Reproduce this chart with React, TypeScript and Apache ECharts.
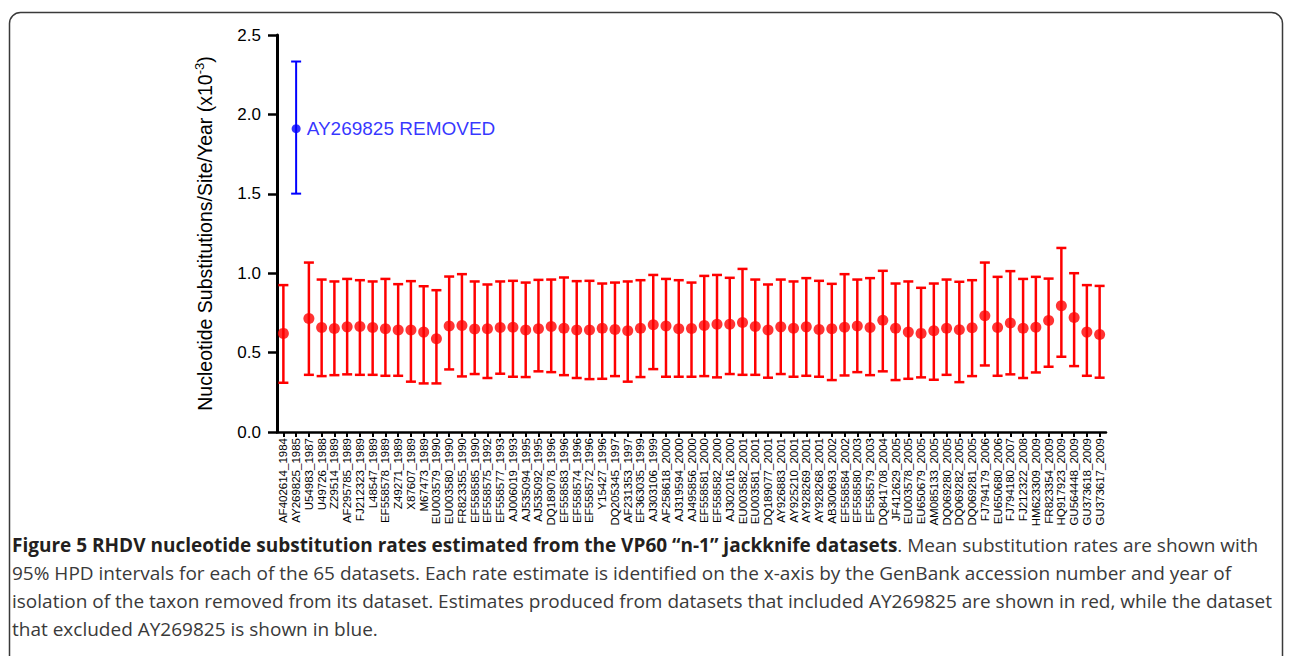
import React, { useEffect, useRef } from 'react';
import * as echarts from 'echarts';

const labels = [
  'AF402614_1984', 'AY269825_1985', 'U54983_1987', 'U49726_1988', 'Z29514_1989',
  'AF295785_1989', 'FJ212323_1989', 'L48547_1989', 'EF558578_1989', 'Z49271_1989',
  'X87607_1989', 'M67473_1989', 'EU003579_1990', 'EU003580_1990', 'FR823355_1990',
  'EF558585_1990', 'EF558575_1992', 'EF558577_1993', 'AJ006019_1993', 'AJ535094_1995',
  'AJ535092_1995', 'DQ189078_1996', 'EF558583_1996', 'EF558574_1996', 'EF558572_1996',
  'Y15427_1996', 'DQ205345_1997', 'AF231353_1997', 'EF363035_1999', 'AJ303106_1999',
  'AF258618_2000', 'AJ319594_2000', 'AJ495856_2000', 'EF558581_2000', 'EF558582_2000',
  'AJ302016_2000', 'EU003582_2001', 'EU003581_2001', 'DQ189077_2001', 'AY926883_2001',
  'AY925210_2001', 'AY928269_2001', 'AY928268_2001', 'AB300693_2002', 'EF558584_2002',
  'EF558580_2003', 'EF558579_2003', 'DQ841708_2004', 'JF412629_2005', 'EU003578_2005',
  'EU650679_2005', 'AM085133_2005', 'DQ069280_2005', 'DQ069282_2005', 'DQ069281_2005',
  'FJ794179_2006', 'EU650680_2006', 'FJ794180_2007', 'FJ212322_2008', 'HM623309_2009',
  'FR823354_2009', 'HQ917923_2009', 'GU564448_2009', 'GU373618_2009', 'GU373617_2009',
];

const means = [
  0.621, 1.91, 0.715, 0.658, 0.652, 0.662, 0.665, 0.658, 0.65, 0.642,
  0.642, 0.629, 0.587, 0.667, 0.671, 0.648, 0.65, 0.658, 0.66, 0.642,
  0.65, 0.665, 0.654, 0.642, 0.642, 0.654, 0.646, 0.637, 0.654, 0.675,
  0.667, 0.65, 0.652, 0.671, 0.679, 0.679, 0.69, 0.665, 0.642, 0.662,
  0.654, 0.662, 0.646, 0.65, 0.66, 0.667, 0.658, 0.704, 0.654, 0.629,
  0.621, 0.637, 0.654, 0.644, 0.656, 0.732, 0.658, 0.686, 0.654, 0.66,
  0.702, 0.795, 0.721, 0.629, 0.614,
];

const uppers = [
  0.925, 2.333, 1.067, 0.96, 0.948, 0.964, 0.956, 0.948, 0.964, 0.931,
  0.95, 0.918, 0.893, 0.979, 0.994, 0.948, 0.929, 0.948, 0.952, 0.941,
  0.958, 0.96, 0.973, 0.95, 0.952, 0.935, 0.941, 0.948, 0.956, 0.989,
  0.964, 0.956, 0.941, 0.983, 0.989, 0.971, 1.027, 0.96, 0.929, 0.96,
  0.948, 0.969, 0.952, 0.933, 0.994, 0.96, 0.969, 1.015, 0.935, 0.948,
  0.908, 0.935, 0.96, 0.946, 0.956, 1.067, 0.977, 1.013, 0.964, 0.977,
  0.966, 1.159, 1.0, 0.925, 0.92,
];

const lowers = [
  0.31, 1.501, 0.36, 0.352, 0.358, 0.363, 0.36, 0.36, 0.354, 0.354,
  0.317, 0.306, 0.306, 0.394, 0.35, 0.365, 0.34, 0.367, 0.348, 0.346,
  0.382, 0.377, 0.358, 0.34, 0.333, 0.335, 0.352, 0.317, 0.346, 0.396,
  0.348, 0.348, 0.348, 0.352, 0.344, 0.365, 0.36, 0.36, 0.342, 0.365,
  0.348, 0.354, 0.348, 0.327, 0.356, 0.377, 0.358, 0.382, 0.327, 0.335,
  0.344, 0.329, 0.36, 0.314, 0.352, 0.419, 0.354, 0.363, 0.34, 0.375,
  0.411, 0.474, 0.415, 0.354, 0.342,
];

const removedLabel = 'AY269825 REMOVED';
const removedIndex = labels.indexOf('AY269825_1985');

const captionBold = 'Figure 5 RHDV nucleotide substitution rates estimated from the VP60 \u201cn-1\u201d jackknife datasets';
const captionLines = [
  '. Mean substitution rates are shown with',
  '95% HPD intervals for each of the 65 datasets. Each rate estimate is identified on the x-axis by the GenBank accession number and year of',
  'isolation of the taxon removed from its dataset. Estimates produced from datasets that included AY269825 are shown in red, while the dataset',
  'that excluded AY269825 is shown in blue.',
];

const RED = '#ff0000';
const BLUE = '#0000ff';
const FONT = '"Liberation Sans", Arial, Helvetica, sans-serif';
const CAPFONT = '"Open Sans", "Noto Sans", sans-serif';

export default function App() {
  const ref = useRef<HTMLDivElement>(null);

  useEffect(() => {
    const chart = echarts.init(ref.current!, null, { renderer: 'svg' });
    const redIdx = labels.map((_, i) => i).filter((i) => i !== removedIndex);
    const blueIdx = [removedIndex];
    const barData = (idxs: number[]) => idxs.map((i) => [i, means[i], lowers[i], uppers[i]]);
    const ptData = (idxs: number[]) => idxs.map((i) => [i, means[i]]);

    const makeRender = (color: string, lw: number, half: number) => (params: any, api: any) => {
      const x = api.value(0);
      const lo = api.coord([x, api.value(2)]);
      const hi = api.coord([x, api.value(3)]);
      const st = { stroke: color, lineWidth: lw };
      return {
        type: 'group',
        children: [
          { type: 'line', shape: { x1: lo[0], y1: lo[1], x2: hi[0], y2: hi[1] }, style: st },
          { type: 'line', shape: { x1: hi[0] - half, y1: hi[1], x2: hi[0] + half, y2: hi[1] }, style: st },
          { type: 'line', shape: { x1: lo[0] - half, y1: lo[1], x2: lo[0] + half, y2: lo[1] }, style: st },
        ],
      };
    };

    const captionY = [545, 573, 601, 629];
    const captionGraphics = captionLines.map((t, k) => ({
      type: 'text',
      x: 12,
      y: captionY[k],
      silent: true,
      style: {
        text: k === 0 ? '{b|' + captionBold + '}{n|' + t + '}' : '{n|' + t + '}',
        verticalAlign: 'middle',
        rich: {
          b: { fontFamily: CAPFONT, fontSize: 19, fontWeight: 'bold', fill: '#231f20' },
          n: { fontFamily: CAPFONT, fontSize: 19, fill: '#3a3a3a' },
        },
      },
    }));

    chart.setOption({
      animation: false,
      backgroundColor: '#ffffff',
      textStyle: { fontFamily: FONT },
      grid: { left: 277, right: 186, top: 35, bottom: 224, containLabel: false },
      xAxis: {
        type: 'category',
        data: labels,
        boundaryGap: true,
        axisLine: { show: true, lineStyle: { color: '#000', width: 2.5 } },
        axisTick: { show: true, alignWithLabel: true, length: 5, lineStyle: { color: '#000', width: 2 } },
        axisLabel: {
          interval: 0,
          rotate: 90,
          fontSize: 11.5,
          color: '#000',
          margin: 6,
          fontFamily: FONT,
        },
        splitLine: { show: false },
      },
      yAxis: {
        type: 'value',
        min: 0,
        max: 2.5,
        interval: 0.5,
        name: '{a|Nucleotide Substitutions/Site/Year (x10}{s|-3}{a|)}',
        nameLocation: 'middle',
        nameGap: 60,
        nameTextStyle: {
          rich: {
            a: { fontSize: 19.5, color: '#000', fontFamily: FONT, lineHeight: 24 },
            s: { fontSize: 13, color: '#000', fontFamily: FONT, verticalAlign: 'top', lineHeight: 24, padding: [0, 0, 8, 0] },
          },
        },
        axisLine: { show: true, lineStyle: { color: '#000', width: 3 } },
        axisTick: { show: true, length: 9, lineStyle: { color: '#000', width: 2.5 } },
        axisLabel: {
          fontSize: 17,
          color: '#000',
          margin: 16,
          fontFamily: FONT,
          formatter: (v: number) => v.toFixed(1),
        },
        splitLine: { show: false },
      },
      graphic: [
        {
          type: 'rect',
          silent: true,
          z: -10,
          shape: { x: 9.5, y: 12.5, width: 1273, height: 720, r: 11 },
          style: { fill: 'none', stroke: '#3a3a3a', lineWidth: 1.5 },
        },
        ...captionGraphics,
      ],
      series: [
        {
          type: 'custom',
          renderItem: makeRender(RED, 2.5, 5),
          data: barData(redIdx),
          encode: { x: 0, y: [1, 2, 3] },
          z: 2,
        },
        {
          type: 'custom',
          renderItem: makeRender(BLUE, 2, 5),
          data: barData(blueIdx),
          encode: { x: 0, y: [1, 2, 3] },
          z: 2,
        },
        {
          type: 'scatter',
          data: ptData(redIdx),
          symbol: 'circle',
          symbolSize: 11,
          itemStyle: { color: RED },
          z: 3,
        },
        {
          type: 'scatter',
          data: ptData(blueIdx),
          symbol: 'circle',
          symbolSize: 9,
          itemStyle: { color: BLUE },
          label: {
            show: true,
            position: 'right',
            distance: 6,
            formatter: removedLabel,
            color: BLUE,
            fontSize: 19,
            fontFamily: FONT,
          },
          z: 3,
        },
      ],
    });
    return () => chart.dispose();
  }, []);

  return (
    <div
      ref={ref}
      style={{ position: 'absolute', left: 0, top: 0, width: 1292, height: 656 }}
    />
  );
}
